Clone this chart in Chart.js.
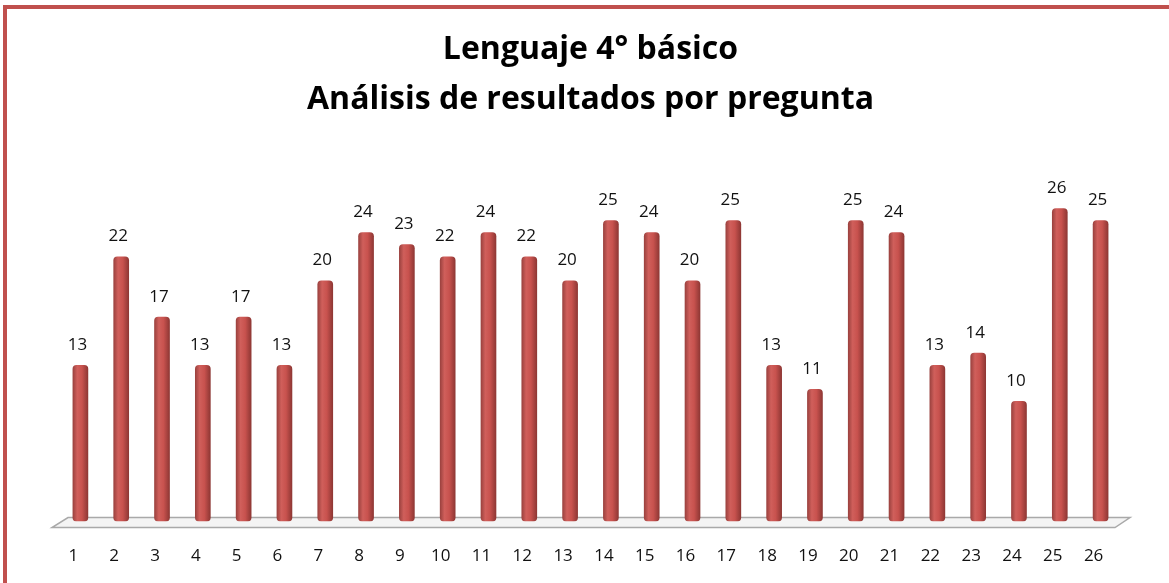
<!DOCTYPE html>
<html>
<head>
  <title>Lenguaje 4° básico</title>
  <script src="https://cdn.jsdelivr.net/npm/chart.js"></script>
  <style>
    html, body { margin: 0; padding: 0; background: #fff; }
    #wrap { position: relative; width: 1169px; height: 583px; }
  </style>
</head>
<body>
  <div id="wrap"><canvas id="myChart"></canvas></div>

  <script>
    // question numbers and how many students answered each one correctly
    const preguntas = ['1','2','3','4','5','6','7','8','9','10','11','12','13','14','15','16','17','18','19','20','21','22','23','24','25','26'];
    const correctas = [13, 22, 17, 13, 17, 13, 20, 24, 23, 22, 24, 22, 20, 25, 24, 20, 25, 13, 11, 25, 24, 13, 14, 10, 26, 25];
    const titulo = ['Lenguaje 4° básico', 'Análisis de resultados por pregunta'];

    const red = '#c0504d';
    const catPct = 0.48, barPct = 0.8;

    // red frame round the chart (only top and left show in the picture)
    const frame = {
      id: 'frame',
      beforeDraw(chart) {
        const c = chart.ctx;
        c.save();
        c.fillStyle = '#fff';
        c.fillRect(0, 0, chart.width, chart.height);
        c.fillStyle = red;
        c.fillRect(3, 5, chart.width - 3, 4);
        c.fillRect(3, 5, 4, chart.height - 5);
        c.restore();
      }
    };

    // flat 3d floor under the bars
    const floor = {
      id: 'floor',
      beforeDatasetsDraw(chart) {
        const c = chart.ctx, a = chart.chartArea;
        const y0 = chart.scales.y.getPixelForValue(0);
        c.save();
        c.beginPath();
        c.moveTo(a.left + 8, y0 - 4);
        c.lineTo(a.right + 9, y0 - 4);
        c.lineTo(a.right - 6, y0 + 6);
        c.lineTo(a.left - 8, y0 + 6);
        c.closePath();
        c.fillStyle = '#f4f4f4';
        c.fill();
        c.lineWidth = 1.5;
        c.strokeStyle = '#a9a9a9';
        c.stroke();
        c.restore();
      }
    };

    // value above every bar
    const valores = {
      id: 'valores',
      afterDatasetsDraw(chart) {
        const c = chart.ctx;
        const meta = chart.getDatasetMeta(0);
        c.save();
        c.font = '17px "Open Sans"';
        c.fillStyle = '#111';
        c.textAlign = 'center';
        c.textBaseline = 'middle';
        meta.data.forEach((bar, i) => {
          c.fillText(String(correctas[i]), bar.x - 3, bar.y - 20);
        });
        c.restore();
      }
    };

    // cylinder shading across each bar, placed from the x scale
    function cylinder(context) {
      const chart = context.chart;
      const xs = chart.scales.x;
      if (!chart.chartArea || !xs || context.dataIndex === undefined) return red;
      const x = xs.getPixelForValue(context.dataIndex);
      const w = xs.width / preguntas.length * catPct * barPct;
      const g = chart.ctx.createLinearGradient(x - w / 2, 0, x + w / 2, 0);
      g.addColorStop(0, '#98403d');
      g.addColorStop(0.3, '#d05f5b');
      g.addColorStop(0.6, '#c8524e');
      g.addColorStop(1, '#8c3633');
      return g;
    }

    const ctx = document.getElementById('myChart').getContext('2d');
    const myChart = new Chart(ctx, {
      type: 'bar',
      data: {
        labels: preguntas,
        datasets: [{
          label: 'Respuestas correctas',
          data: correctas,
          backgroundColor: cylinder,
          borderRadius: 4,
          borderSkipped: false,
          barPercentage: barPct,
          categoryPercentage: catPct
        }]
      },
      options: {
        responsive: true,
        maintainAspectRatio: false,
        animation: false,
        layout: { padding: { left: 60, right: 48, top: 0, bottom: -7 } },
        plugins: {
          legend: { display: false },
          tooltip: { enabled: false },
          title: {
            display: true,
            text: titulo,
            color: '#000',
            font: { family: 'Open Sans', size: 32, weight: 'bold', lineHeight: 1.5625 },
            padding: { top: 25, bottom: 35 }
          }
        },
        scales: {
          x: {
            grid: { display: false, drawTicks: false },
            border: { display: false },
            ticks: {
              color: '#111',
              font: { family: 'Open Sans', size: 17 },
              padding: 24,
              labelOffset: -7,
              maxRotation: 0,
              autoSkip: false
            }
          },
          y: {
            display: false,
            min: 0,
            max: 30
          }
        }
      },
      plugins: [frame, floor, valores]
    });
  </script>
</body>
</html>
